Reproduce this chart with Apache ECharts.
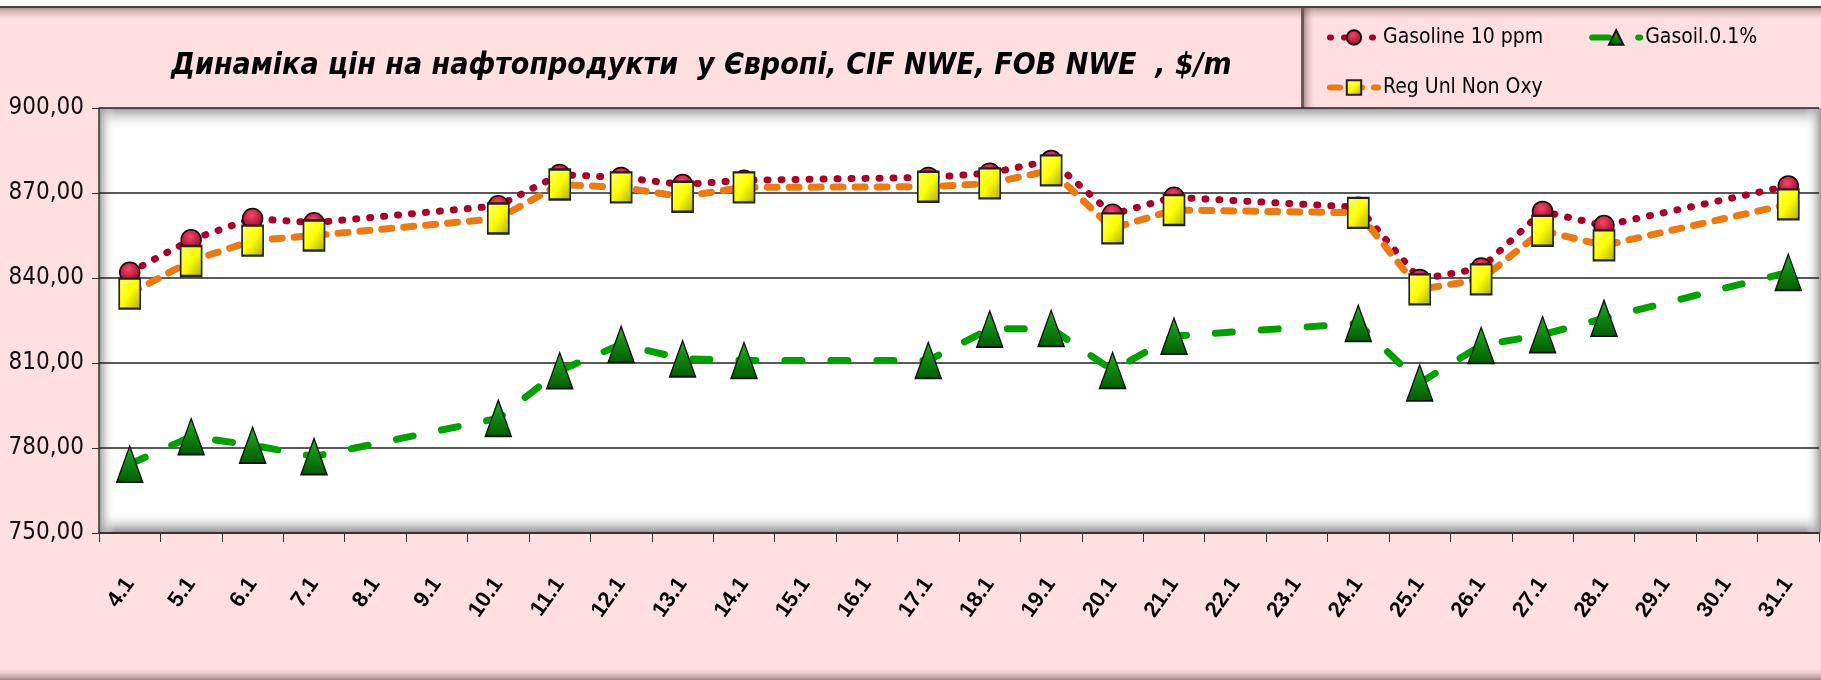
<!DOCTYPE html>
<html>
<head>
<meta charset="utf-8">
<script src="https://cdn.jsdelivr.net/npm/echarts@6/dist/echarts.min.js"></script>
<style>
  html, body { margin: 0; padding: 0; background: #ffdfe0; }
  #chart { width: 1821px; height: 680px; }
</style>
</head>
<body>
<div id="chart"></div>
<script>
  var categories = ['4.1', '5.1', '6.1', '7.1', '8.1', '9.1', '10.1', '11.1', '12.1', '13.1', '14.1', '15.1', '16.1', '17.1',
    '18.1', '19.1', '20.1', '21.1', '22.1', '23.1', '24.1', '25.1', '26.1', '27.1', '28.1', '29.1', '30.1', '31.1'];
  var gasoline = [842, 853.5, 861, 859.5, null, null, 865.5, 876.5, 875.5, 873, 874.5, null, null, 875.5,
    877, 881.5, 862.5, 868.5, null, null, 865, 839.5, 843.5, 863.5, 858.5, null, null, 872.5];
  var gasoil = [774.3, 784, 781, 777, null, null, 790.5, 807.3, 816.6, 811.5, 810.9, null, null, 810.9,
    822, 822.2, 807.4, 819.5, null, null, 824, 803, 816.2, 820, 825.8, null, null, 842];
  var regUnl = [834.5, 846, 853.2, 855, null, null, 861, 873, 872, 868.7, 872, null, null, 872.2,
    873.4, 878, 857.5, 864, null, null, 863, 836, 839.5, 856.7, 851.5, null, null, 866];
  var yTicks = { min: 750, max: 900, step: 30 };

  var narrow = "'DejaVu Sans Condensed', 'Liberation Sans Narrow', 'Liberation Sans', sans-serif";

  var chart = echarts.init(document.getElementById('chart'));

  function grad(x2, y2, c0, c1) {
    return { type: 'linear', x: 0, y: 0, x2: x2, y2: y2, colorStops: [{ offset: 0, color: c0 }, { offset: 1, color: c1 }] };
  }

  var legendText = { fontFamily: narrow, fontSize: 21, color: '#000' };

  var option = {
    backgroundColor: '#ffdfe0',
    animation: false,
    title: {
      text: 'Динаміка цін на нафтопродукти  у Європі, CIF NWE, FOB NWE  , $/m',
      left: 166,
      top: 46,
      textStyle: { fontFamily: narrow, fontStyle: 'italic', fontWeight: 'bold', fontSize: 30, color: '#000' }
    },
    legend: [
      { data: ['Gasoline 10 ppm', 'Gasoil.0.1%'], left: 1322, top: 22, itemWidth: 48, itemHeight: 18, itemGap: 46, textStyle: legendText, lineStyle: { width: 6 } },
      { data: ['Reg Unl Non Oxy'], left: 1322, top: 72, itemWidth: 48, itemHeight: 18, textStyle: legendText, lineStyle: { width: 6 } }
    ],
    grid: { left: 99, right: 2, top: 108, bottom: 147 },
    xAxis: {
      type: 'category',
      data: categories,
      boundaryGap: true,
      axisLine: { lineStyle: { color: '#333', width: 2 } },
      axisTick: { show: true, length: 9, lineStyle: { color: '#333' } },
      axisLabel: { interval: 0, rotate: 55, margin: 47, fontFamily: 'Liberation Sans', fontWeight: 'bold', fontSize: 22, color: '#000' },
      splitLine: { show: false }
    },
    yAxis: {
      type: 'value',
      min: yTicks.min,
      max: yTicks.max,
      interval: yTicks.step,
      axisLine: { show: true, lineStyle: { color: '#333', width: 1.5 } },
      axisTick: { show: true, length: 7, lineStyle: { color: '#333' } },
      axisLabel: {
        margin: 15, fontFamily: narrow, fontSize: 24, color: '#111',
        formatter: function (v) { return v.toFixed(2).replace('.', ','); }
      },
      splitLine: { lineStyle: { color: '#222', width: 1.5 } }
    },
    series: [
      {
        name: 'Gasoline 10 ppm', type: 'line', data: gasoline, connectNulls: true,
        symbol: 'circle', symbolSize: 20,
        lineStyle: { color: '#a8002a', width: 7, type: [1, 13], cap: 'round' },
        itemStyle: {
          color: { type: 'radial', x: 0.45, y: 0.35, r: 0.7, colorStops: [{ offset: 0, color: '#f5456e' }, { offset: 1, color: '#8a0018' }] },
          borderColor: '#1a0000', borderWidth: 1.5
        }
      },
      {
        name: 'Gasoil.0.1%', type: 'line', data: gasoil, connectNulls: true,
        symbol: 'triangle', symbolSize: [26, 36],
        lineStyle: { color: '#00a000', width: 7, type: [17, 29], cap: 'round' },
        itemStyle: { color: grad(0, 1, '#22b022', '#005a00'), borderColor: '#111', borderWidth: 1.5 }
      },
      {
        name: 'Reg Unl Non Oxy', type: 'line', data: regUnl, connectNulls: true,
        symbol: 'rect', symbolSize: [21, 30],
        lineStyle: { color: '#ec7a12', width: 7, type: [10, 12], cap: 'round' },
        itemStyle: {
          color: { type: 'linear', x: 0, y: 0, x2: 1, y2: 1, colorStops: [{ offset: 0, color: '#ffff70' }, { offset: 0.5, color: '#ffff00' }, { offset: 1, color: '#a8a800' }] },
          borderColor: '#222', borderWidth: 2
        }
      }
    ],
    graphic: [
      // plot panel with soft inner shading
      { type: 'rect', z: -10, shape: { x: 99, y: 108, width: 1722, height: 425 }, style: { fill: '#fff' } },
      { type: 'rect', z: -9, shape: { x: 99, y: 108, width: 1722, height: 22 }, style: { fill: grad(0, 1, '#9a9a9a', 'rgba(255,255,255,0)') } },
      { type: 'rect', z: -9, shape: { x: 99, y: 511, width: 1722, height: 22 }, style: { fill: grad(0, 1, 'rgba(255,255,255,0)', '#8c8c8c') } },
      { type: 'rect', z: -9, shape: { x: 99, y: 108, width: 16, height: 425 }, style: { fill: grad(1, 0, '#9a9a9a', 'rgba(255,255,255,0)') } },
      { type: 'rect', z: -9, shape: { x: 1805, y: 108, width: 16, height: 425 }, style: { fill: grad(1, 0, 'rgba(255,255,255,0)', '#9a9a9a') } },
      // top strip
      { type: 'rect', z: -9, shape: { x: 0, y: 0, width: 1821, height: 7 }, style: { fill: '#fff' } },
      { type: 'rect', z: -9, shape: { x: 0, y: 6, width: 1821, height: 2 }, style: { fill: '#444' } },
      { type: 'rect', z: -9, shape: { x: 0, y: 8, width: 1821, height: 14 }, style: { fill: grad(0, 1, 'rgba(90,60,60,0.45)', 'rgba(255,223,224,0)') } },
      // legend box edge
      { type: 'rect', z: -9, shape: { x: 1301, y: 8, width: 3, height: 100 }, style: { fill: '#6a5a5a' } },
      { type: 'rect', z: -9, shape: { x: 1304, y: 8, width: 12, height: 100 }, style: { fill: grad(1, 0, 'rgba(90,60,60,0.45)', 'rgba(255,223,224,0)') } },
      // bottom edge
      { type: 'rect', z: -9, shape: { x: 0, y: 666, width: 1821, height: 14 }, style: { fill: grad(0, 1, 'rgba(255,223,224,0)', '#9a8585') } }
    ]
  };

  chart.setOption(option);
</script>
</body>
</html>
